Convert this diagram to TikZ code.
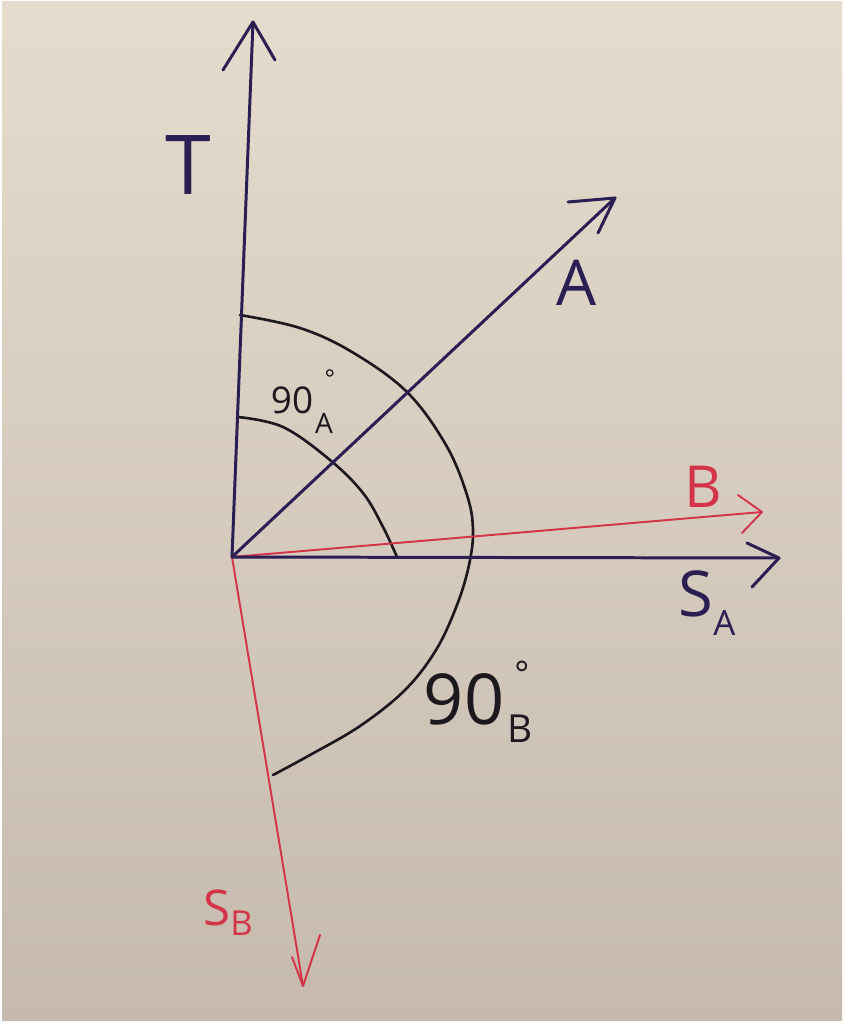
\documentclass[tikz,border=0pt]{standalone}
\usepackage{fontspec}
\setmainfont{Open Sans}
\usepackage{graphicx}
\definecolor{paperTop}{RGB}{229,220,205}
\definecolor{paperBot}{RGB}{198,186,175}
\definecolor{navy}{RGB}{42,30,82}
\definecolor{redpen}{RGB}{212,52,72}
\definecolor{blackpen}{RGB}{28,24,30}
\begin{document}
\begin{tikzpicture}[x=0.02cm,y=-0.02cm,
  navyline/.style={draw=navy,line width=1.7pt,line cap=round,line join=round},
  redline/.style={draw=redpen,line width=1.1pt,line cap=round,line join=round},
  arcline/.style={draw=blackpen,line width=1.5pt,line cap=round},
  lbl/.style={inner sep=0pt,font=\fontsize{#1}{#1}\selectfont},
  lbl/.default=36]
\fill[white] (0,0) rectangle (845,1025);
\shade[top color=paperTop,bottom color=paperBot] (2,1) rectangle (842,1020);
\useasboundingbox (0,0) rectangle (845,1025);
% coordinates
\coordinate (O) at (232,557);
\coordinate (Ttip) at (253,22);
\coordinate (Tl) at (223,70);
\coordinate (Tr) at (275,60);
\coordinate (Atip) at (615,198);
\coordinate (Al) at (568,202);
\coordinate (Ar) at (598,233);
\coordinate (Btip) at (762,512);
\coordinate (Bl) at (738,495);
\coordinate (Br) at (742,533);
\coordinate (SAtip) at (779,558);
\coordinate (SAl) at (747,543);
\coordinate (SAr) at (752,587);
\coordinate (SBtip) at (303,986);
\coordinate (SBl) at (292,957);
\coordinate (SBr) at (320,935);
% arcs
\draw[arcline] plot[smooth,tension=0.6] coordinates {(238,417) (283,427) (330,460) (363,493) (383,527) (397,557)};
\draw[arcline] plot[smooth,tension=0.6] coordinates {(240,315) (300,328) (352,352) (407,392) (446,445) (467,495) (473,530) (469,565) (457,605) (436,650) (405,690) (360,726) (310,755) (273,775)};
% red vectors
\draw[redline] (O) -- (Btip);
\draw[redline] (Bl) -- (Btip) -- (Br);
\draw[redline] (O) -- (SBtip);
\draw[redline] (SBl) -- (SBtip) -- (SBr);
% navy vectors
\draw[navyline] (O) -- (Ttip);
\draw[navyline] (Tl) -- (Ttip) -- (Tr);
\draw[navyline] (O) -- (Atip);
\draw[navyline] (Al) -- (Atip) -- (Ar);
\draw[navyline] (O) -- (SAtip);
\draw[navyline] (SAl) -- (SAtip) -- (SAr);
% labels
\node[lbl=47,text=navy] (Tlab) at (188,165) {T};
\node[lbl=36,text=navy] (Alab) at (577,283) {A};
\node[lbl=33,text=redpen] (Blab) at (703,487) {B};
\node[lbl=36,text=navy] (SAlab) at (707,603) {S\raisebox{-0.3em}{\scalebox{0.55}{A}}};
\node[lbl=28,text=redpen] (SBlab) at (228,913) {S\raisebox{-0.2em}{\scalebox{0.7}{B}}};
% 90 degrees, A
\node[lbl=21,text=blackpen] (angA) at (292,400) {90};
\node[lbl=14,text=blackpen] (degA) at (330,379) {°};
\node[lbl=16,text=blackpen] (subA) at (324,423) {A};
% 90 degrees, B
\node[lbl=40,text=blackpen] (angB) at (464,699) {90};
\node[lbl=20,text=blackpen] (degB) at (522,674) {°};
\node[lbl=22,text=blackpen] (subB) at (520,729) {B};
\end{tikzpicture}
\end{document}
